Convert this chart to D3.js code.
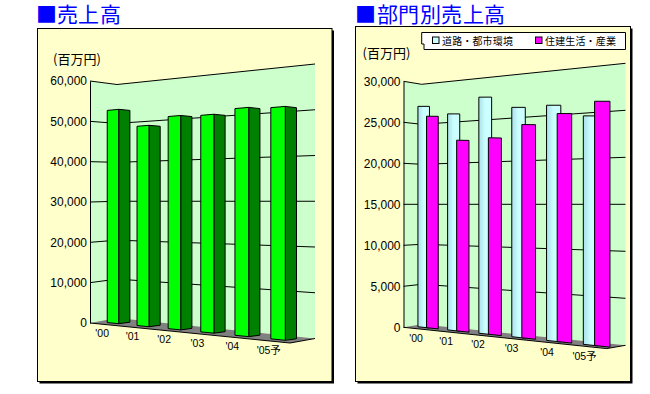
<!DOCTYPE html>
<html lang="ja">
<head>
<meta charset="utf-8">
<script src="https://cdnjs.cloudflare.com/ajax/libs/d3/7.8.5/d3.min.js"></script>
<style>
@font-face{font-family:"TitleJP";src:local("Noto Sans CJK JP"),local("Noto Sans CJK JP Regular"),local("NotoSansCJKjp-Regular");ascent-override:85%;descent-override:15%;}
html,body{margin:0;padding:0;background:#fff;}
svg{display:block;}
.latin{font-family:"Liberation Sans",Arial,"Noto Sans CJK JP",sans-serif;fill:#000;}
.cjk{font-family:"Noto Sans CJK JP",sans-serif;}
.title{font-family:"TitleJP","Noto Sans CJK JP",sans-serif;}
</style>
</head>
<body>
<svg id="chart" width="650" height="394"></svg>
<script>
// ---- data ----
const categories = ["'00", "'01", "'02", "'03", "'04", "'05予"];
const totalSales = [52800, 48900, 51300, 51600, 53200, 53400];
const roadUrban = [26900, 26000, 28000, 26800, 27050, 25850];
const housingIndustry = [25700, 22850, 23200, 24800, 26100, 27500];
const totalTicks = [0, 10000, 20000, 30000, 40000, 50000, 60000];
const segmentTicks = [0, 5000, 10000, 15000, 20000, 25000, 30000];
const unitLabel = "(百万円)";
const titleLeft = "■売上高";
const titleRight = "■部門別売上高";
const legendNames = ["道路・都市環境", "住建生活・産業"];

const svg = d3.select("#chart");
const defs = svg.append("defs");
const grad = defs.append("linearGradient").attr("id", "cyanShade");
grad.append("stop").attr("offset", "0").attr("stop-color", "#A9E0E8");
grad.append("stop").attr("offset", "0.5").attr("stop-color", "#CCFFFF");
grad.append("stop").attr("offset", "1").attr("stop-color", "#CCFFFF");

const polyPath = pts => d3.line()(pts) + "Z";

function drawFrame(box, title, titleX, spacing) {
  svg.append("rect").attr("x", box.x + 2).attr("y", box.y + 2)
    .attr("width", box.w).attr("height", box.h).attr("fill", "#000");
  svg.append("rect").attr("x", box.x).attr("y", box.y)
    .attr("width", box.w).attr("height", box.h)
    .attr("fill", "#FFFFCC").attr("stroke", "#000").attr("stroke-width", 1);
  svg.append("text").attr("class", "title").attr("x", titleX).attr("y", 22)
    .attr("fill", "#0000FF").attr("font-size", 21)
    .attr("letter-spacing", spacing).text(title);
}

// Perspective chart frame: three wall edges, a floor, and a projection for the bars.
function makeFrame(p) {
  const yL = d3.scaleLinear().domain([0, p.max]).range(p.leftEdge);
  const yC = d3.scaleLinear().domain([0, p.max]).range(p.cornerEdge);
  const yR = d3.scaleLinear().domain([0, p.max]).range(p.rightEdge);

  const g = svg.append("g");
  // wall
  g.append("path").attr("fill", "#CCFFCC").attr("d", polyPath([
    [p.xL, yL(p.max)], [p.xC, yC(p.max)], [p.xR, yR(p.max)],
    [p.xR, yR(0)], [p.xC, yC(0)], [p.xL, yL(0)]
  ]));
  // grid lines
  g.selectAll("path.grid").data(p.ticks.filter(d => d > 0)).join("path")
    .attr("class", "grid").attr("fill", "none").attr("stroke", "#000")
    .attr("d", d => d3.line()([[p.xL, yL(d)], [p.xC, yC(d)], [p.xR, yR(d)]]));
  // floor
  g.append("path").attr("fill", "#808080").attr("d", polyPath([
    [p.xL, yL(0)], [p.xC, yC(0)], [p.xR, yR(0)], p.floorFront
  ]));
  g.append("path").attr("fill", "none").attr("stroke", "#000")
    .attr("d", d3.line()([[p.xL, yL(0)], p.floorFront, [p.xR, yR(0)]]));

  // y axis
  const axis = d3.axisLeft(yL).tickValues(p.ticks).tickSize(0).tickPadding(3)
    .tickFormat(d3.format(","));
  const ag = svg.append("g").attr("transform", `translate(${p.xL},0)`).call(axis);
  ag.select(".domain").attr("stroke", "#000");
  ag.selectAll("text").attr("class", "latin").attr("font-size", 12)
    .attr("font-family", null);

  // unit
  svg.append("text").attr("class", "cjk").attr("x", p.unitX).attr("y", p.unitY)
    .attr("font-size", 13).attr("fill", "#000").text(unitLabel);

  // category projection
  const xU = u => (p.a * u + p.x0) / (p.c * u + 1);
  const base = d3.scaleLinear().domain(p.baseX).range(p.baseY);
  const k = d3.scaleLinear().domain(p.kX).range(p.kV);
  const at = (u, v, shrink = 1, dx = 0, dy = 0) => {
    const x = xU(u);
    return [x + dx, base(x) + dy - k(x) * v * shrink];
  };

  // category labels
  svg.append("g").selectAll("text").data(categories).join("text")
    .attr("class", "latin").attr("font-size", 10.5).attr("text-anchor", "middle")
    .attr("x", (d, i) => xU(i) + p.labelDx)
    .attr("y", (d, i) => base(xU(i)) + p.labelDy + 4)
    .text(d => d);

  return {at};
}

// ---------- left panel ----------
drawFrame({x: 37.5, y: 28.5, w: 294.5, h: 353}, titleLeft, 36, 0.2);
const L = makeFrame({
  max: 60000, ticks: totalTicks,
  xL: 90, xC: 117, xR: 315,
  leftEdge: [323, 81], cornerEdge: [318, 84.5], rightEdge: [338.5, 64],
  floorFront: [290, 343],
  unitX: 53, unitY: 64,
  a: 26.99, x0: 118.7, c: -0.02218,
  baseX: [118.7, 285.3], baseY: [323.7, 340.3],
  kX: [118.7, 285.3], kV: [0.00406, 0.00438],
  labelDx: -16.5, labelDy: 9.5
});
const leftBars = svg.append("g").selectAll("g").data(totalSales).join("g");
leftBars.append("path").attr("fill", "#008000").attr("stroke", "#000")
  .attr("d", (v, i) => polyPath([
    L.at(i, v), L.at(i, v, 0.988, 11.2, -1.5), L.at(i, 0, 1, 11.2, -1.5), L.at(i, 0)
  ]));
leftBars.append("path").attr("fill", "#00FF00").attr("stroke", "#000")
  .attr("d", (v, i) => polyPath([
    L.at(i - 0.39, v, 0.995), L.at(i, v), L.at(i, 0), L.at(i - 0.39, 0)
  ]));

// ---------- right panel ----------
drawFrame({x: 355.5, y: 26.5, w: 275, h: 355}, titleRight, 355, 0.5);
const R = makeFrame({
  max: 30000, ticks: segmentTicks,
  xL: 403.5, xC: 421.7, xR: 625.5,
  leftEdge: [327.3, 81.3], cornerEdge: [324.3, 84.3], rightEdge: [345.3, 63.3],
  floorFront: [606.7, 348.6],
  unitX: 362.5, unitY: 57.5,
  a: 18.58, x0: 428, c: -0.02535,
  baseX: [432.5, 602], baseY: [328.3, 346.3],
  kX: [432.5, 602], kV: [0.00825, 0.00891],
  labelDx: -12, labelDy: 10
});
const barPath = (v, i, u0, u1) => polyPath([
  R.at(i + u0, v), R.at(i + u1, v), R.at(i + u1, 0), R.at(i + u0, 0)
]);
const rightBars = svg.append("g").selectAll("g").data(categories).join("g");
rightBars.append("path").attr("fill", "url(#cyanShade)").attr("stroke", "#000")
  .attr("d", (d, i) => barPath(roadUrban[i], i, -0.345, 0.05));
rightBars.append("path").attr("fill", "#FF00FF").attr("stroke", "#000")
  .attr("d", (d, i) => barPath(housingIndustry[i], i, -0.05, 0.345));

// legend
const legend = svg.append("g");
legend.append("path").attr("fill", "#fff").attr("stroke", "#000")
  .attr("d", polyPath([[421.7, 32.5], [625.5, 32.5], [625.5, 49.5], [424, 49.5], [424, 44], [421.7, 44]]));
const legendColors = ["#CCFFFF", "#FF00FF"];
const legendX = d3.scalePoint().domain(legendNames).range([432.5, 535.5]);
const items = legend.selectAll("g").data(legendNames).join("g")
  .attr("transform", d => `translate(${legendX(d)},37)`);
items.append("rect").attr("width", 6.5).attr("height", 6.5)
  .attr("fill", (d, i) => legendColors[i]).attr("stroke", "#000");
items.append("text").attr("class", "cjk").attr("x", 9.5).attr("y", 7.5)
  .attr("font-size", 10).attr("letter-spacing", 0.15).attr("fill", "#000").text(d => d);
</script>
</body>
</html>
